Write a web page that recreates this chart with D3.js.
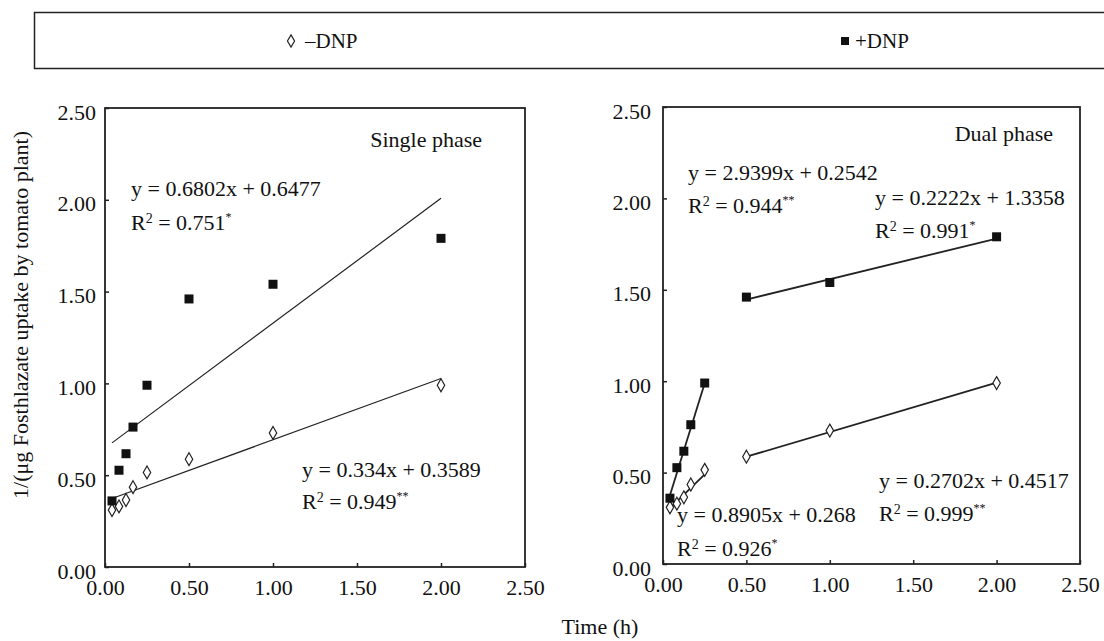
<!DOCTYPE html>
<meta charset="utf-8">
<head>
<script src="https://d3js.org/d3.v7.min.js"></script>
<style>
  body { margin: 0; background: #fff; }
  svg, svg text { font-family: "Liberation Serif", "Times New Roman", Times, serif; fill: #111; }
</style>
</head>
<body>
<div class="viz"></div>
<script>
// sampling times (h)
var times = [0.0417, 0.0833, 0.125, 0.1667, 0.25, 0.5, 1, 2];
// 1/(ug fosthiazate uptake)
var minusDNP = [0.31, 0.33, 0.365, 0.435, 0.515, 0.587, 0.73, 0.99];
var plusDNP = [0.36, 0.527, 0.617, 0.762, 0.99, 1.46, 1.54, 1.79];

var xTicks = [0, 0.5, 1, 1.5, 2, 2.5];
var yTicks = [0, 0.5, 1, 1.5, 2, 2.5];

// regression lines: slope, intercept, x range
var singleFits = [
  { m: 0.6802, b: 0.6477, from: 0.0417, to: 2 },
  { m: 0.334, b: 0.3589, from: 0.0417, to: 2 }
];
var dualFits = [
  { m: 2.9399, b: 0.2542, from: 0.03, to: 0.25 },
  { m: 0.2222, b: 1.3358, from: 0.5, to: 2 },
  { m: 0.8905, b: 0.268, from: 0.03, to: 0.25 },
  { m: 0.2702, b: 0.4517, from: 0.5, to: 2 }
];

var singleEq = [
  { eq: "y = 0.6802x + 0.6477", r2: "0.751", sig: "*" },
  { eq: "y = 0.334x + 0.3589", r2: "0.949", sig: "**" }
];
var dualEq = [
  { eq: "y = 2.9399x + 0.2542", r2: "0.944", sig: "**" },
  { eq: "y = 0.2222x + 1.3358", r2: "0.991", sig: "*" },
  { eq: "y = 0.2702x + 0.4517", r2: "0.999", sig: "**" },
  { eq: "y = 0.8905x + 0.268", r2: "0.926", sig: "*" }
];

var FONT = "'Liberation Serif', 'Times New Roman', Times, serif";
var width = 1104, height = 641;
var svg = d3.select("div.viz").append("svg")
  .attr("width", width).attr("height", height)
  .attr("font-family", FONT);

// legend box (runs off the right edge)
svg.append("rect")
  .attr("x", 34.5).attr("y", 12.5).attr("width", 1100).attr("height", 56)
  .attr("fill", "none").attr("stroke", "#222").attr("stroke-width", 1.5);

svg.append("path").attr("d", d3.symbol().type(d3.symbolDiamond).size(44)())
  .attr("transform", "translate(291,41)")
  .attr("fill", "#fff").attr("stroke", "#222").attr("stroke-width", 1.2);
svg.append("text").attr("x", 305).attr("y", 48).attr("font-family", FONT)
  .style("font-size", "21px").text("\u2013DNP");
svg.append("rect").attr("x", 841).attr("y", 37).attr("width", 8).attr("height", 8).attr("fill", "#111");
svg.append("text").attr("x", 855).attr("y", 48).attr("font-family", FONT)
  .style("font-size", "21px").text("+DNP");

// y axis title
svg.append("text")
  .attr("transform", "translate(28,315) rotate(-90)")
  .attr("text-anchor", "middle").attr("font-family", FONT)
  .style("font-size", "22px")
  .text("1/(\u03bcg Fosthlazate uptake by tomato plant)");

svg.append("text")
  .attr("x", 600).attr("y", 634).attr("text-anchor", "middle").attr("font-family", FONT)
  .style("font-size", "22px").text("Time (h)");

function panel(box, opts) {
  var x = d3.scaleLinear().domain([0, 2.5]).range([box.x0, box.x1]);
  var y = d3.scaleLinear().domain([0, 2.5]).range([box.y1, box.y0]);

  var gx = svg.append("g").attr("transform", "translate(0," + box.y1 + ")")
    .call(d3.axisBottom(x).tickValues(xTicks).tickFormat(d3.format(".2f"))
      .tickSize(-4).tickPadding(12));
  var gy = svg.append("g").attr("transform", "translate(" + box.x0 + ",0)")
    .call(d3.axisLeft(y).tickValues(yTicks).tickFormat(d3.format(".2f"))
      .tickSize(-4).tickPadding(opts.yPad));
  [gx, gy].forEach(function(g) {
    g.attr("font-family", FONT).attr("font-size", 22);
    g.select(".domain").remove();
    g.selectAll("line").attr("stroke", "#222").attr("stroke-width", 1.5);
    g.selectAll("text").attr("fill", "#111");
  });
  gy.selectAll("text").attr("dy", "0.5em");

  svg.append("rect")
    .attr("x", box.x0).attr("y", box.y0)
    .attr("width", box.x1 - box.x0).attr("height", box.y1 - box.y0)
    .attr("fill", "none").attr("stroke", "#222").attr("stroke-width", 1.8);

  // fitted lines
  svg.selectAll(null).data(opts.fits).enter().append("line")
    .attr("x1", function(d) { return x(d.from); })
    .attr("y1", function(d) { return y(d.m * d.from + d.b); })
    .attr("x2", function(d) { return x(d.to); })
    .attr("y2", function(d) { return y(d.m * d.to + d.b); })
    .attr("stroke", "#222").attr("stroke-width", opts.lineW);

  // -DNP diamonds
  svg.selectAll(null).data(times).enter().append("path")
    .attr("d", d3.symbol().type(d3.symbolDiamond).size(48)())
    .attr("transform", function(d, i) { return "translate(" + x(d) + "," + y(minusDNP[i]) + ")"; })
    .attr("fill", "#fff").attr("stroke", "#222").attr("stroke-width", 1.2);

  // +DNP squares
  svg.selectAll(null).data(times).enter().append("rect")
    .attr("x", function(d) { return x(d) - 4.5; })
    .attr("y", function(d, i) { return y(plusDNP[i]) - 4.5; })
    .attr("width", 9).attr("height", 9)
    .attr("fill", "#111");

  svg.append("text").attr("x", opts.title.x).attr("y", opts.title.y).attr("font-family", FONT)
    .attr("text-anchor", "end").style("font-size", "22px").text(opts.title.text);

  opts.eqs.forEach(function(e, i) {
    var p = opts.eqPos[i];
    svg.append("text").attr("x", p[0]).attr("y", p[1]).attr("font-family", FONT)
      .style("font-size", "22px").text(e.eq);
    var t = svg.append("text").attr("x", p[0]).attr("y", p[2]).attr("font-family", FONT)
      .style("font-size", "22px");
    t.append("tspan").text("R");
    t.append("tspan").attr("dy", -7).style("font-size", "14px").text("2");
    t.append("tspan").attr("dy", 7).text(" = " + e.r2);
    t.append("tspan").attr("dy", -9).style("font-size", "12px").text(e.sig);
  });
}

panel({ x0: 105, x1: 525, y0: 108, y1: 567 }, {
  yPad: 9, lineW: 1.2, fits: singleFits, eqs: singleEq,
  eqPos: [[131, 196, 230], [302, 477, 509]],
  title: { x: 482, y: 147, text: "Single phase" }
});

panel({ x0: 663, x1: 1080, y0: 107, y1: 564 }, {
  yPad: 12, lineW: 1.8, fits: dualFits, eqs: dualEq,
  eqPos: [[688, 180, 213], [875, 205, 238], [879, 488, 521], [677, 522, 556]],
  title: { x: 1053, y: 141, text: "Dual phase" }
});
</script>
</body>
